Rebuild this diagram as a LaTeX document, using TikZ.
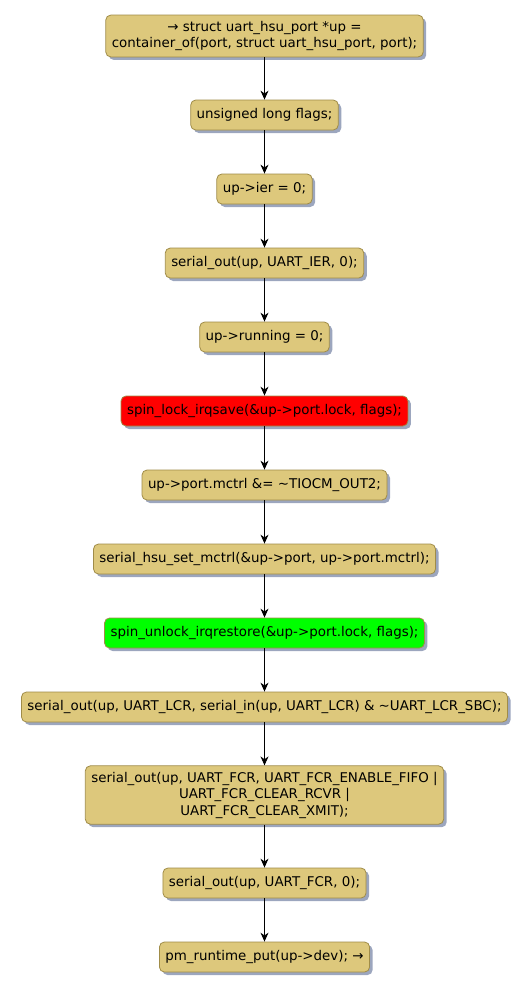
\documentclass[tikz,border=0pt]{standalone}
\usepackage{fontspec}
\setmainfont{DejaVu Sans}
\usetikzlibrary{arrows.meta,shadows}

\definecolor{actfill}{HTML}{DDC87C}
\definecolor{actline}{HTML}{A08C48}
\definecolor{actshadow}{HTML}{9CA6BE}

\tikzset{
    act/.style={draw=actline, fill=actfill, rounded corners=5pt, line width=0.8pt,
        inner xsep=6pt, inner ysep=6pt, minimum height=30pt, align=center,
        font=\fontsize{13.4}{16.5}\selectfont,
        drop shadow={shadow xshift=3pt, shadow yshift=-3pt, fill=actshadow, opacity=1}},
    flow/.style={-{Stealth[length=9pt,width=8pt]}, line width=0.8pt}
}

\begin{document}
\begin{tikzpicture}[x=1pt,y=1pt]
    \useasboundingbox (0,0) rectangle (532,-991);

    % Schritte von oben nach unten
    \node[act] (port) at (264.5,-36) {→ struct uart\_hsu\_port *up =\\container\_of(port, struct uart\_hsu\_port, port);};
    \node[act] (flags) at (264.5,-115) {unsigned long flags;};
    \node[act] (ier) at (264.5,-189) {up->ier = 0;};
    \node[act] (outier) at (264.5,-263) {serial\_out(up, UART\_IER, 0);};
    \node[act] (running) at (264.5,-337) {up->running = 0;};
    \node[act, fill=red] (lock) at (264.5,-411) {spin\_lock\_irqsave(\&up->port.lock, flags);};
    \node[act] (mctrl) at (264.5,-485) {up->port.mctrl \&= \textasciitilde TIOCM\_OUT2;};
    \node[act] (setmctrl) at (264.5,-559) {serial\_hsu\_set\_mctrl(\&up->port, up->port.mctrl);};
    \node[act, fill=green] (unlock) at (264.5,-633) {spin\_unlock\_irqrestore(\&up->port.lock, flags);};
    \node[act] (lcr) at (264.5,-707) {serial\_out(up, UART\_LCR, serial\_in(up, UART\_LCR) \& \textasciitilde UART\_LCR\_SBC);};
    \node[act] (fcr) at (264.5,-795) {serial\_out(up, UART\_FCR, UART\_FCR\_ENABLE\_FIFO |\\UART\_FCR\_CLEAR\_RCVR |\\UART\_FCR\_CLEAR\_XMIT);};
    \node[act] (fcrzero) at (264.5,-883) {serial\_out(up, UART\_FCR, 0);};
    \node[act] (put) at (264.5,-957) {pm\_runtime\_put(up->dev); →};

    % Pfeile
    \foreach \a/\b in {port/flags, flags/ier, ier/outier, outier/running, running/lock,
        lock/mctrl, mctrl/setmctrl, setmctrl/unlock, unlock/lcr, lcr/fcr, fcr/fcrzero, fcrzero/put}
        \draw[flow] (\a) -- (\b);
\end{tikzpicture}
\end{document}
